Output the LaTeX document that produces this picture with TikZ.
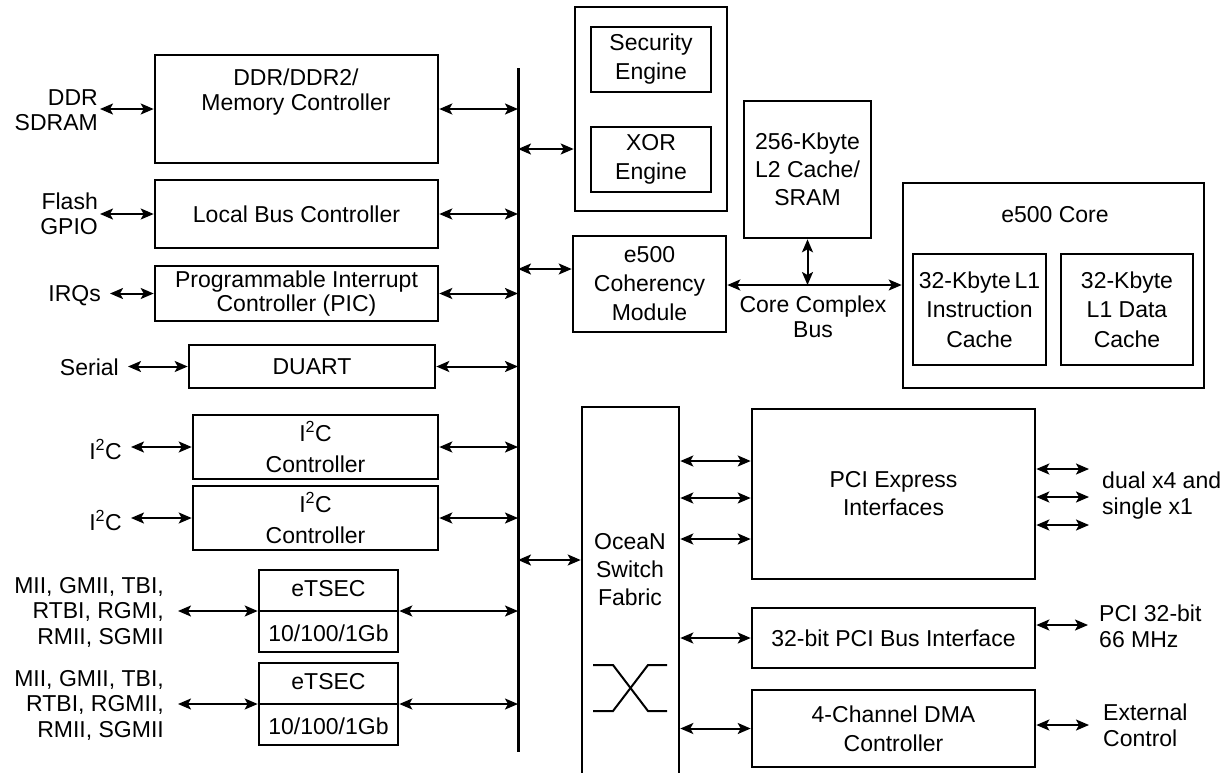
\documentclass[tikz,border=0pt]{standalone}
\usepackage{fontspec}
\setmainfont{Liberation Sans}
\usetikzlibrary{arrows.meta,calc}
\newcommand\mkbox[6][]{\node[box,minimum width={#5pt-#3pt},minimum height={#6pt-#4pt},#1] (#2) at ({(#3+#5)/2},{(#4+#6)/2})}
\begin{document}
\begin{tikzpicture}[x=1pt,y=-1pt,
  box/.style={draw,line width=2.6pt,inner sep=0pt,align=center,font=\fontsize{23}{28}\selectfont},
  conn/.style={line width=2pt,{Stealth[length=13pt,width=11pt,inset=3pt]}-{Stealth[length=13pt,width=11pt,inset=3pt]}},
  txt/.style={inner sep=0pt,align=center,font=\fontsize{23}{28}\selectfont},
  rlbl/.style={inner sep=0pt,align=right,anchor=east,font=\fontsize{23}{25.5}\selectfont},
  llbl/.style={inner sep=0pt,align=left,anchor=west,font=\fontsize{23}{26}\selectfont},
  thin/.style={line width=2pt}
]
\useasboundingbox (0,0) rectangle (1231,772);

% system bus
\coordinate (busT) at (518,68);
\coordinate (busB) at (518,752);
\draw[line width=3pt] (busT) -- (busB);

% left column
\mkbox{ddr}{155}{55}{438}{163} {};
\node[txt,font=\fontsize{23}{25}\selectfont] (ddrT) at (296,92.5) {DDR/DDR2/\\Memory Controller};
\mkbox{lbc}{155}{180}{438}{248} {Local Bus Controller};
\mkbox[font=\fontsize{23}{24}\selectfont]{pic}{155}{266}{438}{321} {Programmable Interrupt\\Controller (PIC)};
\mkbox{duart}{189}{345}{435}{388} {DUART};
\mkbox[font=\fontsize{23}{31}\selectfont]{iic1}{193}{415}{438}{479} {I\textsuperscript{2}C\\Controller};
\mkbox[font=\fontsize{23}{31}\selectfont]{iic2}{193}{486}{438}{550} {I\textsuperscript{2}C\\Controller};
\mkbox{ets1}{259}{570}{398}{652} {};
\draw[line width=2.6pt] (ets1.west) -- (ets1.east);
\node[txt] (ets1a) at (328.5,589) {eTSEC};
\node[txt] (ets1b) at (328.5,633) {10/100/1Gb};
\mkbox{ets2}{259}{663}{398}{745} {};
\draw[line width=2.6pt] (ets2.west) -- (ets2.east);
\node[txt] (ets2a) at (328.5,682) {eTSEC};
\node[txt] (ets2b) at (328.5,726) {10/100/1Gb};

% left labels
\node[rlbl] (lddr) at (98,110) {DDR\\SDRAM};
\node[rlbl] (lflash) at (98,214) {Flash\\GPIO};
\node[rlbl] (lirq) at (101,296) {IRQs};
\node[rlbl] (lser) at (119,367) {Serial};
\node[rlbl] (liic1) at (122,449) {I\textsuperscript{2}C};
\node[rlbl] (liic2) at (122,520) {I\textsuperscript{2}C};
\node[rlbl] (leth1) at (164,612) {MII, GMII, TBI,\\RTBI, RGMI,\\RMII, SGMII};
\node[rlbl] (leth2) at (164,705) {MII, GMII, TBI,\\RTBI, RGMII,\\RMII, SGMII};

% left arrows
\draw[conn] ($(lddr.east |- ddr.west)+(2,0)$) -- (ddr.west);
\draw[conn] ($(lflash.east |- lbc.west)+(2,0)$) -- (lbc.west);
\draw[conn] ($(lirq.east |- pic.west)+(9,0)$) -- (pic.west);
\draw[conn] ($(lser.east |- duart.west)+(9,0)$) -- (duart.west);
\draw[conn] ($(liic1.east |- iic1.west)+(9,0)$) -- (iic1.west);
\draw[conn] ($(liic2.east |- iic2.west)+(9,0)$) -- (iic2.west);
\draw[conn] ($(leth1.east |- ets1.west)+(14,0)$) -- (ets1.west);
\draw[conn] ($(leth2.east |- ets2.west)+(14,0)$) -- (ets2.west);

% box to bus arrows
\foreach \b in {ddr,lbc,pic,duart,iic1,iic2,ets1,ets2}
  \draw[conn] (\b.east) -- (\b.east -| busT);

% engines
\mkbox{eng}{575}{7}{727}{211} {};
\mkbox[font=\fontsize{23}{29}\selectfont]{sec}{591}{27}{711}{92} {Security\\Engine};
\mkbox[font=\fontsize{23}{29}\selectfont]{xor}{591}{127}{711}{192} {XOR\\Engine};
\draw[conn] (busT |- 0,149) -- (eng.west |- 0,149);

% coherency module
\mkbox[font=\fontsize{23}{29}\selectfont]{coh}{573}{236}{726}{332} {e500\\Coherency\\Module};
\draw[conn] (busT |- 0,269) -- (coh.west |- 0,269);

% L2 cache
\mkbox[font=\fontsize{23}{28}\selectfont]{ltwo}{744}{101}{871}{238} {256-Kbyte\\L2 Cache/\\SRAM};

% e500 core
\mkbox{core}{903}{183}{1204}{388} {};
\node[txt] (coreT) at (1055,215) {e500 Core};
\mkbox[font=\fontsize{23}{29.5}\selectfont]{lonei}{913}{254}{1046}{365} {32-Kbyte\,L1\\Instruction\\Cache};
\mkbox[font=\fontsize{23}{29.5}\selectfont]{loned}{1061}{254}{1193}{365} {32-Kbyte\\L1 Data\\Cache};

% core complex bus
\coordinate (ccb) at (817,285);
\draw[conn] (coh.east |- ccb) -- (core.west |- ccb);
\draw[conn] (ltwo.south) -- (ltwo.south |- ccb);
\node[txt,font=\fontsize{23}{25}\selectfont] (ccbT) at (813,317) {Core Complex\\Bus};

% OceaN switch fabric
\begin{scope}
\clip (0,0) rectangle (1231,772);
\mkbox{oc}{582}{407}{679}{800} {};
\end{scope}
\node[txt] (ocT) at (630,570) {OceaN\\Switch\\Fabric};
\draw[conn] (busT |- 0,560) -- (oc.west |- 0,560);
\draw[thin] (593,665) -- (613,665) -- (648,711) -- (667,711);
\draw[thin] (593,711) -- (613,711) -- (648,665) -- (667,665);

% right column
\mkbox[font=\fontsize{23}{28}\selectfont]{pcie}{752}{409}{1035}{579} {PCI Express\\Interfaces};
\mkbox{pci}{752}{608}{1035}{668} {32-bit PCI Bus Interface};
\mkbox[font=\fontsize{23}{29}\selectfont]{dma}{752}{690}{1035}{767} {4-Channel DMA\\Controller};

\draw[conn] (oc.east |- 0,461) -- (pcie.west |- 0,461);
\draw[conn] (oc.east |- 0,498) -- (pcie.west |- 0,498);
\draw[conn] (oc.east |- 0,539) -- (pcie.west |- 0,539);
\draw[conn] (oc.east |- pci.west) -- (pci.west);
\draw[conn] (oc.east |- dma.west) -- (dma.west);

% right labels
\node[llbl] (rpcie) at (1102,495.5) {dual x4 and\\single x1};
\node[llbl] (rpci) at (1099,626) {PCI 32-bit\\66 MHz};
\node[llbl] (rdma) at (1103,725.5) {External\\Control};

\coordinate (pe1) at (1089,469);
\coordinate (pe2) at (1089,497);
\coordinate (pe3) at (1089,525);
\coordinate (pe4) at (1088,625);
\coordinate (pe5) at (1089,725);
\draw[conn] (pcie.east |- pe1) -- (pe1);
\draw[conn] (pcie.east |- pe2) -- (pe2);
\draw[conn] (pcie.east |- pe3) -- (pe3);
\draw[conn] (pci.east |- pe4) -- (pe4);
\draw[conn] (dma.east |- pe5) -- (pe5);
\end{tikzpicture}
\end{document}
